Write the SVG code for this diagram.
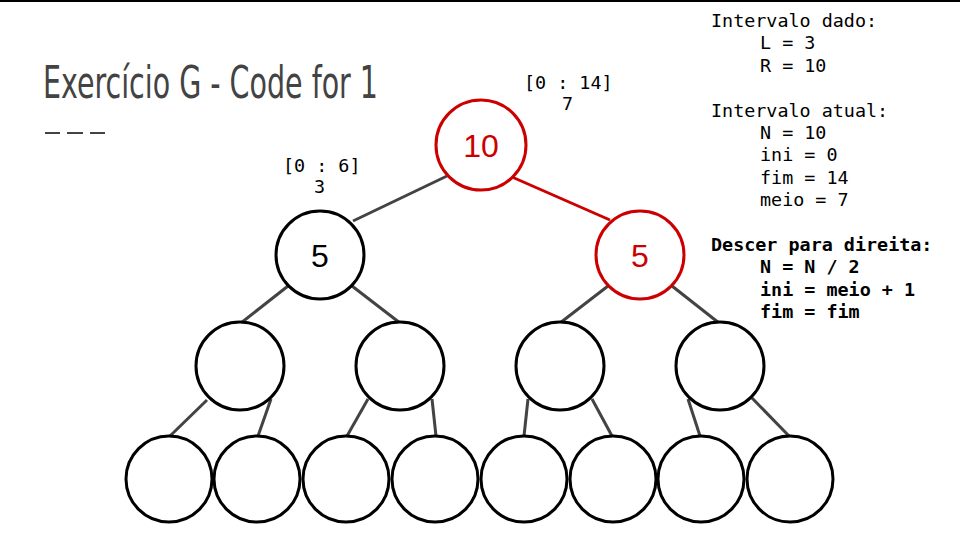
<svg xmlns="http://www.w3.org/2000/svg" width="960" height="540" viewBox="0 0 960 540">
<style>
.n{fill:#fff;stroke:#000;stroke-width:3}
.r{fill:#fff;stroke:#cc0000;stroke-width:3}
.e{stroke:#434343;stroke-width:3;fill:none}
.er{stroke:#cc0000;stroke-width:3;fill:none}
.m{font-family:"DejaVu Sans Mono",monospace;font-size:18.4px;fill:#000}
.b{font-weight:bold}
.v{font-family:"Liberation Sans",Arial,sans-serif;font-size:32px;text-anchor:middle}
</style>
<rect width="960" height="540" fill="#fff"/>
<line x1="0" y1="1" x2="960" y2="1" stroke="#000" stroke-width="2"/>
<text x="43" y="98" font-family="'DejaVu Sans Condensed','DejaVu Sans',sans-serif" font-size="45" fill="#434343" textLength="335" lengthAdjust="spacingAndGlyphs">Exercício G - Code for 1</text>
<path d="M45 133H60M67 133H83M90 133H105" stroke="#434343" stroke-width="2"/>
<g id="edges">
<line class="e" x1="447" y1="176" x2="353" y2="221"/>
<line class="er" x1="512" y1="177" x2="610" y2="220"/>
<line class="e" x1="288" y1="286" x2="241" y2="323"/>
<line class="e" x1="352" y1="286" x2="400" y2="323"/>
<line class="e" x1="608" y1="286" x2="560" y2="323"/>
<line class="e" x1="672" y1="286" x2="719" y2="323"/>
<line class="e" x1="207" y1="400" x2="170" y2="436"/>
<line class="e" x1="271" y1="399" x2="258" y2="436"/>
<line class="e" x1="368" y1="399" x2="347" y2="436"/>
<line class="e" x1="432" y1="399" x2="436" y2="436"/>
<line class="e" x1="528" y1="399" x2="524" y2="436"/>
<line class="e" x1="592" y1="399" x2="612" y2="436"/>
<line class="e" x1="688" y1="399" x2="700" y2="436"/>
<line class="e" x1="752" y1="398" x2="789" y2="436"/>
</g>
<g id="root"><circle class="r" cx="481" cy="145" r="45"/><text class="v" x="481" y="157" fill="#cc0000">10</text></g>
<g id="l2a"><circle class="n" cx="320" cy="255" r="44"/><text class="v" x="320" y="267" fill="#000">5</text></g>
<g id="l2b"><circle class="r" cx="640" cy="255" r="44"/><text class="v" x="640" y="267" fill="#cc0000">5</text></g>
<g id="l3a"><circle class="n" cx="240" cy="366" r="44"/></g>
<g id="l3b"><circle class="n" cx="400" cy="366" r="44"/></g>
<g id="l3c"><circle class="n" cx="560" cy="366" r="44"/></g>
<g id="l3d"><circle class="n" cx="720" cy="366" r="44"/></g>
<g id="l4a"><circle class="n" cx="169" cy="479" r="43"/></g>
<g id="l4b"><circle class="n" cx="257" cy="479" r="43"/></g>
<g id="l4c"><circle class="n" cx="346" cy="479" r="43"/></g>
<g id="l4d"><circle class="n" cx="435" cy="479" r="43"/></g>
<g id="l4e"><circle class="n" cx="524" cy="479" r="43"/></g>
<g id="l4f"><circle class="n" cx="613" cy="479" r="43"/></g>
<g id="l4g"><circle class="n" cx="701" cy="479" r="43"/></g>
<g id="l4h"><circle class="n" cx="790" cy="479" r="43"/></g>
<g id="labels">
<text class="m" x="524" y="89" xml:space="preserve">[0 : 14]</text>
<text class="m" x="562" y="110">7</text>
<text class="m" x="283" y="172" xml:space="preserve">[0 : 6]</text>
<text class="m" x="314" y="193">3</text>
</g>
<g id="panel" class="m" xml:space="preserve">
<text class="m" x="711" y="27">Intervalo dado:</text>
<text class="m" x="760" y="49">L = 3</text>
<text class="m" x="760" y="72">R = 10</text>
<text class="m" x="711" y="117">Intervalo atual:</text>
<text class="m" x="760" y="139">N = 10</text>
<text class="m" x="760" y="161">ini = 0</text>
<text class="m" x="760" y="184">fim = 14</text>
<text class="m" x="760" y="206">meio = 7</text>
<text class="m b" x="711" y="251">Descer para direita:</text>
<text class="m b" x="760" y="273">N = N / 2</text>
<text class="m b" x="760" y="296">ini = meio + 1</text>
<text class="m b" x="760" y="318">fim = fim</text>
</g>
</svg>
